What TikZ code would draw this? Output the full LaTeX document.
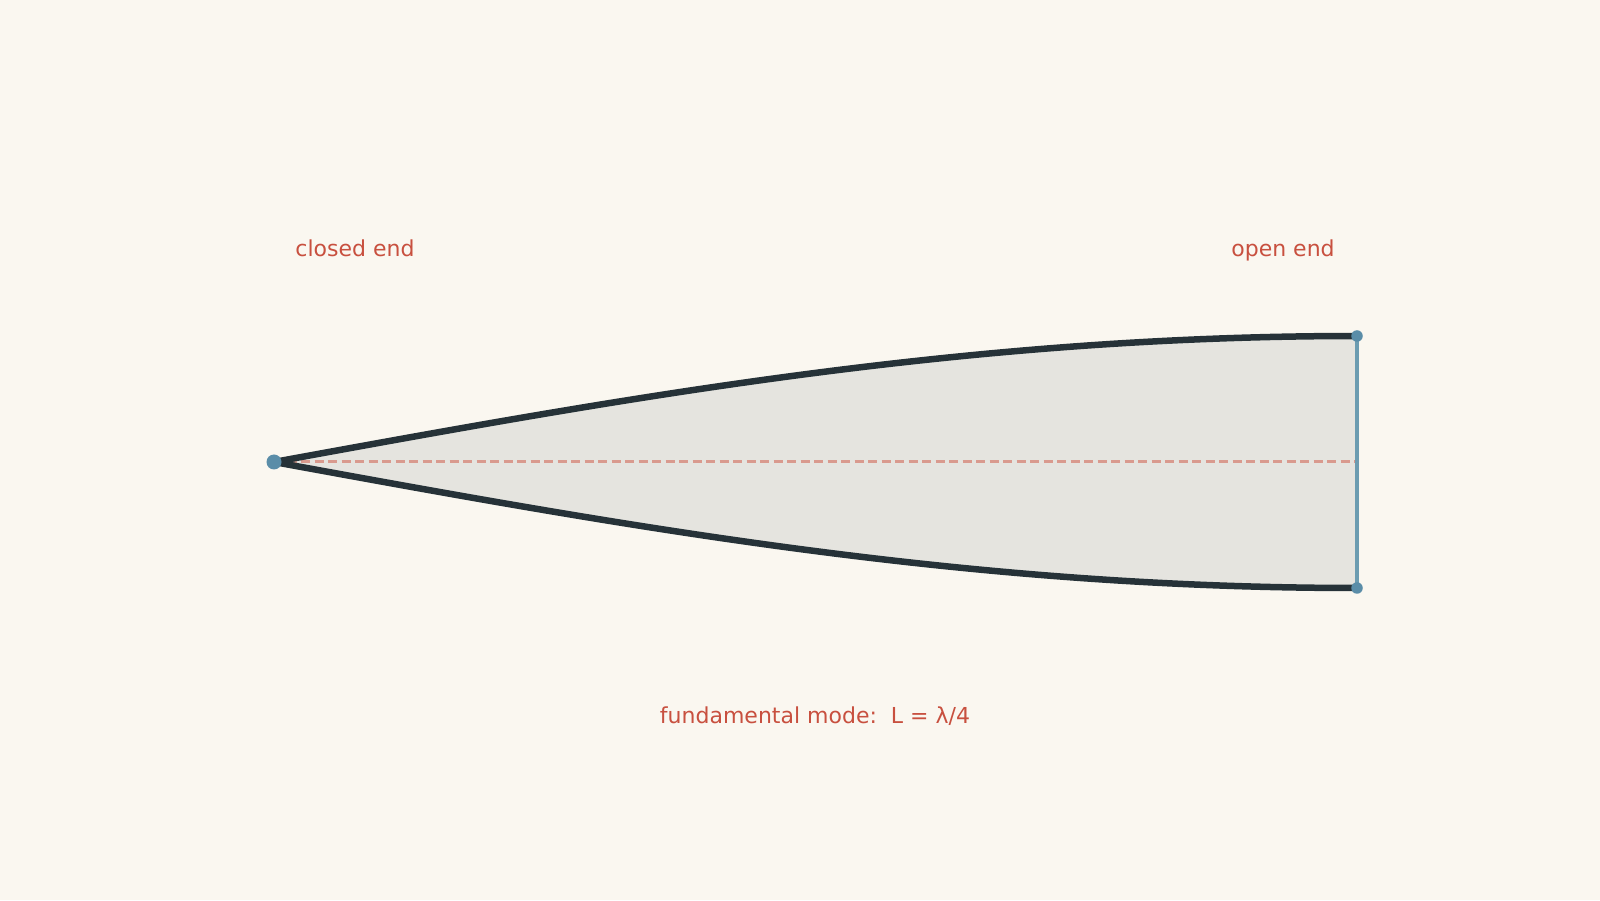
\documentclass[tikz,border=0pt]{standalone}
\usepackage{fontspec}
\setmainfont{DejaVu Sans}
\definecolor{bg}{HTML}{FAF7F0}
\definecolor{tubefill}{HTML}{E5E4DF}
\definecolor{wall}{HTML}{263238}
\definecolor{dotblue}{HTML}{5A8DA8}
\definecolor{lineblue}{HTML}{6C9CB1}
\definecolor{labelred}{HTML}{C8503F}
\definecolor{dashred}{HTML}{D99A8E}
\begin{document}
\begin{tikzpicture}[x=1pt,y=1pt,
  wallline/.style={draw=wall,line width=6.5pt,line cap=round,line join=round},
  axisline/.style={draw=dashred,line width=3pt,dash pattern=on 9pt off 4.5pt},
  openline/.style={draw=lineblue,line width=3.5pt},
  bigdot/.style={circle,fill=dotblue,inner sep=0pt,minimum size=15pt},
  smalldot/.style={circle,fill=dotblue,inner sep=0pt,minimum size=11.5pt},
  lbl/.style={text=labelred,font=\fontsize{22pt}{26pt}\selectfont,anchor=base,inner sep=0pt}]
\fill[bg] (0,0) rectangle (1600,900);
\useasboundingbox (0,0) rectangle (1600,900);
% tube body
\fill[tubefill] plot[domain=0:1,samples=120] ({274+1083*\x},{438+126*sin(90*\x)})
  -- plot[domain=1:0,samples=120] ({274+1083*\x},{438-126*sin(90*\x)}) -- cycle;
% axis
\coordinate (closed) at (274,438);
\coordinate (openmid) at (1357,438);
\draw[axisline] (closed) -- (openmid);
% open end line
\coordinate (opentop) at (1357,564);
\coordinate (openbot) at (1357,312);
\draw[openline] (opentop) -- (openbot);
% walls
\draw[wallline] plot[domain=0:1,samples=120] ({274+1083*\x},{438+126*sin(90*\x)});
\draw[wallline] plot[domain=0:1,samples=120] ({274+1083*\x},{438-126*sin(90*\x)});
% dots
\node[bigdot] (closeddot) at (closed) {};
\node[smalldot] (topdot) at (opentop) {};
\node[smalldot] (botdot) at (openbot) {};
% labels
\node[lbl] (closedlbl) at (355,643) {closed end};
\node[lbl] (openlbl) at (1283,643) {open end};
\node[lbl] (modelbl) at (815,177) {fundamental mode:\ \ L = λ/4};
\end{tikzpicture}
\end{document}
